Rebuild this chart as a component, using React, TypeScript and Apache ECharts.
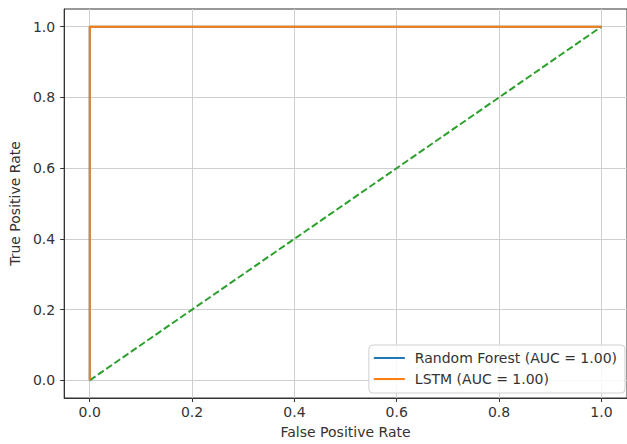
import React, { useEffect, useRef } from "react";
import * as echarts from "echarts";

const tickValues = [0, 0.2, 0.4, 0.6, 0.8, 1.0];
const rfFpr = [0, 0, 1];
const rfTpr = [0, 1, 1];
const lstmFpr = [0, 0, 1];
const lstmTpr = [0, 1, 1];
const diagX = [0, 1];
const diagY = [0, 1];
const rfName = "Random Forest (AUC = 1.00)";
const lstmName = "LSTM (AUC = 1.00)";

const FONT = "DejaVu Sans";
const TXT = "#333";

function pairs(xs: number[], ys: number[]) {
  return xs.map((x, i) => [x, ys[i]]);
}

export default function App() {
  const ref = useRef<HTMLDivElement>(null);
  useEffect(() => {
    if (!ref.current) return;
    const chart = echarts.init(ref.current, null, { renderer: "svg" });
    const axisCommon = {
      type: "value" as const,
      min: -0.05,
      max: 1.05,
      axisLine: { show: true, onZero: false, lineStyle: { color: "#333", width: 1 } },
      axisTick: { show: true, length: 4, customValues: tickValues, lineStyle: { color: "#333" } },
      axisLabel: {
        customValues: tickValues,
        formatter: (v: number) => v.toFixed(1),
        color: TXT,
        fontFamily: FONT,
        fontSize: 14,
      },
      splitLine: { show: true, lineStyle: { color: "#cfcfcf", width: 1 } },
      nameLocation: "middle" as const,
      nameTextStyle: { color: TXT, fontFamily: FONT, fontSize: 14 },
    };
    chart.setOption({
      animation: false,
      backgroundColor: "#fff",
      grid: {
        left: 62,
        top: 9,
        right: -1,
        bottom: 44,
        show: true,
        borderColor: "#333",
        borderWidth: 1,
        backgroundColor: "transparent",
      },
      xAxis: {
        ...axisCommon,
        name: "False Positive Rate",
        nameGap: 27,
        axisLabel: { ...axisCommon.axisLabel, margin: 7 },
      },
      yAxis: {
        ...axisCommon,
        name: "True Positive Rate",
        nameGap: 38,
        axisLabel: { ...axisCommon.axisLabel, margin: 9 },
      },
      legend: {
        data: [rfName, lstmName],
        orient: "vertical",
        right: 2,
        bottom: 51,
        icon: "rect",
        itemWidth: 31,
        itemHeight: 2,
        itemGap: 5,
        padding: [5, 8, 6, 5],
        backgroundColor: "rgba(255,255,255,0.85)",
        borderColor: "#d0d0d0",
        borderWidth: 1,
        borderRadius: 4,
        textStyle: {
          color: TXT,
          fontFamily: FONT,
          fontSize: 14,
          lineHeight: 16,
          padding: [0, 0, 0, 5],
        },
      },
      series: [
        {
          name: "diag",
          type: "line",
          data: pairs(diagX, diagY),
          showSymbol: false,
          lineStyle: { color: "#2ca02c", width: 2, type: [7, 3] },
          itemStyle: { color: "#2ca02c" },
          z: 2,
        },
        {
          name: rfName,
          type: "line",
          data: pairs(rfFpr, rfTpr),
          showSymbol: false,
          lineStyle: { color: "#1f77b4", width: 2 },
          itemStyle: { color: "#1f77b4" },
          z: 3,
        },
        {
          name: lstmName,
          type: "line",
          data: pairs(lstmFpr, lstmTpr),
          showSymbol: false,
          lineStyle: { color: "#ff7f0e", width: 2 },
          itemStyle: { color: "#ff7f0e" },
          z: 4,
        },
      ],
    });
    return () => chart.dispose();
  }, []);
  return (
    <div
      ref={ref}
      style={{ position: "fixed", left: 0, top: 0, width: 627, height: 444 }}
    />
  );
}
